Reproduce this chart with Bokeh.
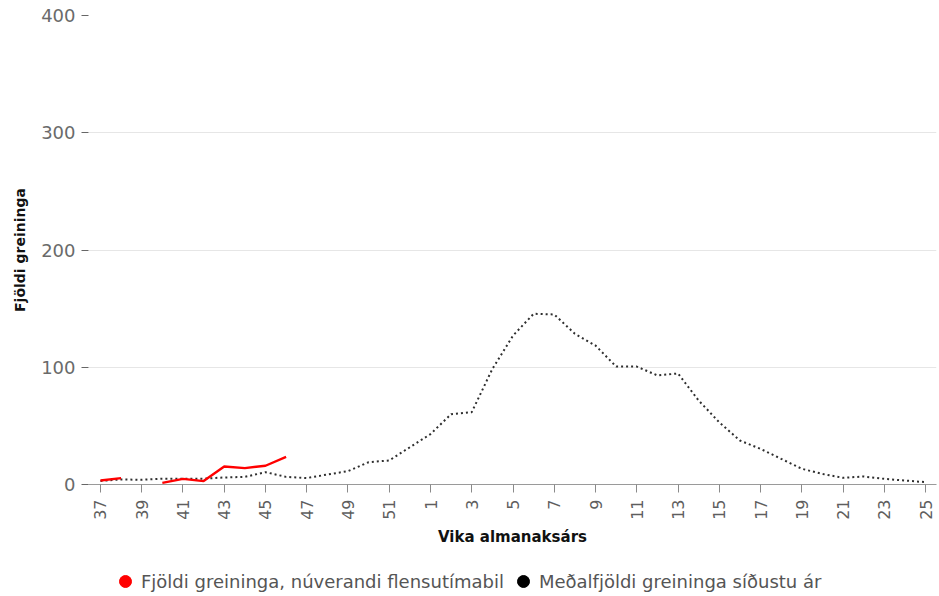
import math
from bokeh.plotting import figure
from bokeh.layouts import column
from bokeh.models import FixedTicker, Legend, LegendItem, ColumnDataSource, Range1d
from bokeh.embed import file_html
from bokeh.resources import INLINE

nan = float("nan")

# Week labels (season runs from week 37 to week 25 of next year)
weeks = [str(w) for w in list(range(37, 53)) + list(range(1, 26))]

# Current season: number of diagnoses (weeks 37-46, gap at week 39)
current = [3.4, 5.4, nan, 1.4, 4.8, 2.9, 15.4, 14.0, 16.0, 23.6] + [nan] * 31

# Average of previous seasons
average = [3.0, 4.3, 4.0, 5.0, 5.0, 5.0, 6.0, 6.5, 10.5, 6.5, 5.5, 8.5, 11.4, 19.0,
           20.5, 31.8, 43.0, 60.0, 61.7, 98.6, 127.0, 145.6, 145.0, 128.5, 118.5,
           100.6, 100.6, 93.0, 94.7, 71.6, 53.0, 37.5, 30.4, 21.9, 13.4, 9.0, 5.7,
           6.8, 4.8, 3.4, 2.0]

y_ticks = [0, 100, 200, 300, 400]

series_names = ["Fjöldi greininga, núverandi flensutímabil",
                "Meðalfjöldi greininga síðustu ár"]
series_colors = ["#ff0000", "#000000"]

idx = list(range(len(weeks)))
src = ColumnDataSource(dict(x=idx, cur=current, avg=average))

p = figure(width=939, height=560, output_backend="svg", toolbar_location=None,
           x_range=Range1d(-0.58, 40.53), y_range=Range1d(0, 400),
           min_border_left=88, min_border_right=3, min_border_top=15,
           min_border_bottom=76)
p.outline_line_color = None
p.background_fill_color = "white"

p.line("x", "avg", source=src, line_color="#2e2e2e", line_width=2, line_dash="2 3")
p.line("x", "cur", source=src, line_color=series_colors[0], line_width=2.4)

# grid
p.xgrid.visible = False
p.ygrid.grid_line_color = "#e6e6e6"
p.ygrid.ticker = FixedTicker(ticks=y_ticks)

# x axis
xa = p.xaxis[0]
xa.ticker = FixedTicker(ticks=[i for i in idx if i % 2 == 0])
xa.major_label_overrides = {i: weeks[i] for i in idx}
xa.major_label_orientation = math.pi / 2
xa.major_label_text_font = "DejaVu Sans"
xa.major_label_text_font_size = "16px"
xa.major_label_text_color = "#5e5e5e"
xa.major_label_standoff = 7
xa.major_tick_out = 8
xa.major_tick_in = 0
xa.major_tick_line_color = "#8a8a8a"
xa.minor_tick_line_color = None
xa.axis_line_color = "#9a9a9a"
xa.axis_label = "Vika almanaksárs"
xa.axis_label_text_font = "DejaVu Sans"
xa.axis_label_text_font_style = "bold"
xa.axis_label_text_font_size = "15px"
xa.axis_label_text_color = "#111111"
xa.axis_label_standoff = 5

# y axis
ya = p.yaxis[0]
ya.ticker = FixedTicker(ticks=y_ticks)
ya.major_label_text_font = "DejaVu Sans"
ya.major_label_text_font_size = "18px"
ya.major_label_text_color = "#6a6a6a"
ya.major_label_standoff = 6
ya.major_tick_out = 7
ya.major_tick_in = 0
ya.major_tick_line_color = "#666666"
ya.minor_tick_line_color = None
ya.axis_line_color = None
ya.axis_label = "Fjöldi greininga"
ya.axis_label_text_font = "DejaVu Sans"
ya.axis_label_text_font_style = "bold"
ya.axis_label_text_font_size = "14px"
ya.axis_label_text_color = "#111111"
ya.axis_label_standoff = 10

# legend strip below the chart
lg = figure(width=939, height=36, output_backend="svg", toolbar_location=None,
            x_axis_type=None, y_axis_type=None, min_border=0,
            x_range=Range1d(0, 1), y_range=Range1d(0, 1))
lg.outline_line_color = None
leg_src = ColumnDataSource(dict(x=[nan], y=[nan]))
r_red = lg.scatter("x", "y", source=leg_src, marker="circle",
                   fill_color=series_colors[0], line_color=series_colors[0])
r_blk = lg.scatter("x", "y", source=leg_src, marker="circle",
                   fill_color=series_colors[1], line_color=series_colors[1])

legend = Legend(items=[LegendItem(label=series_names[0], renderers=[r_red]),
                       LegendItem(label=series_names[1], renderers=[r_blk])],
                orientation="horizontal", location=(21, 0))
legend.glyph_width = 32
legend.glyph_height = 30
legend.label_standoff = 0
legend.spacing = 3
legend.padding = 0
legend.margin = 0
legend.border_line_color = None
legend.background_fill_alpha = 0
legend.label_text_font = "DejaVu Sans"
legend.label_text_font_size = "18px"
legend.label_text_color = "#555555"
lg.add_layout(legend, "center")

open("out.html", "w").write(file_html(column(p, lg, spacing=0), INLINE))
